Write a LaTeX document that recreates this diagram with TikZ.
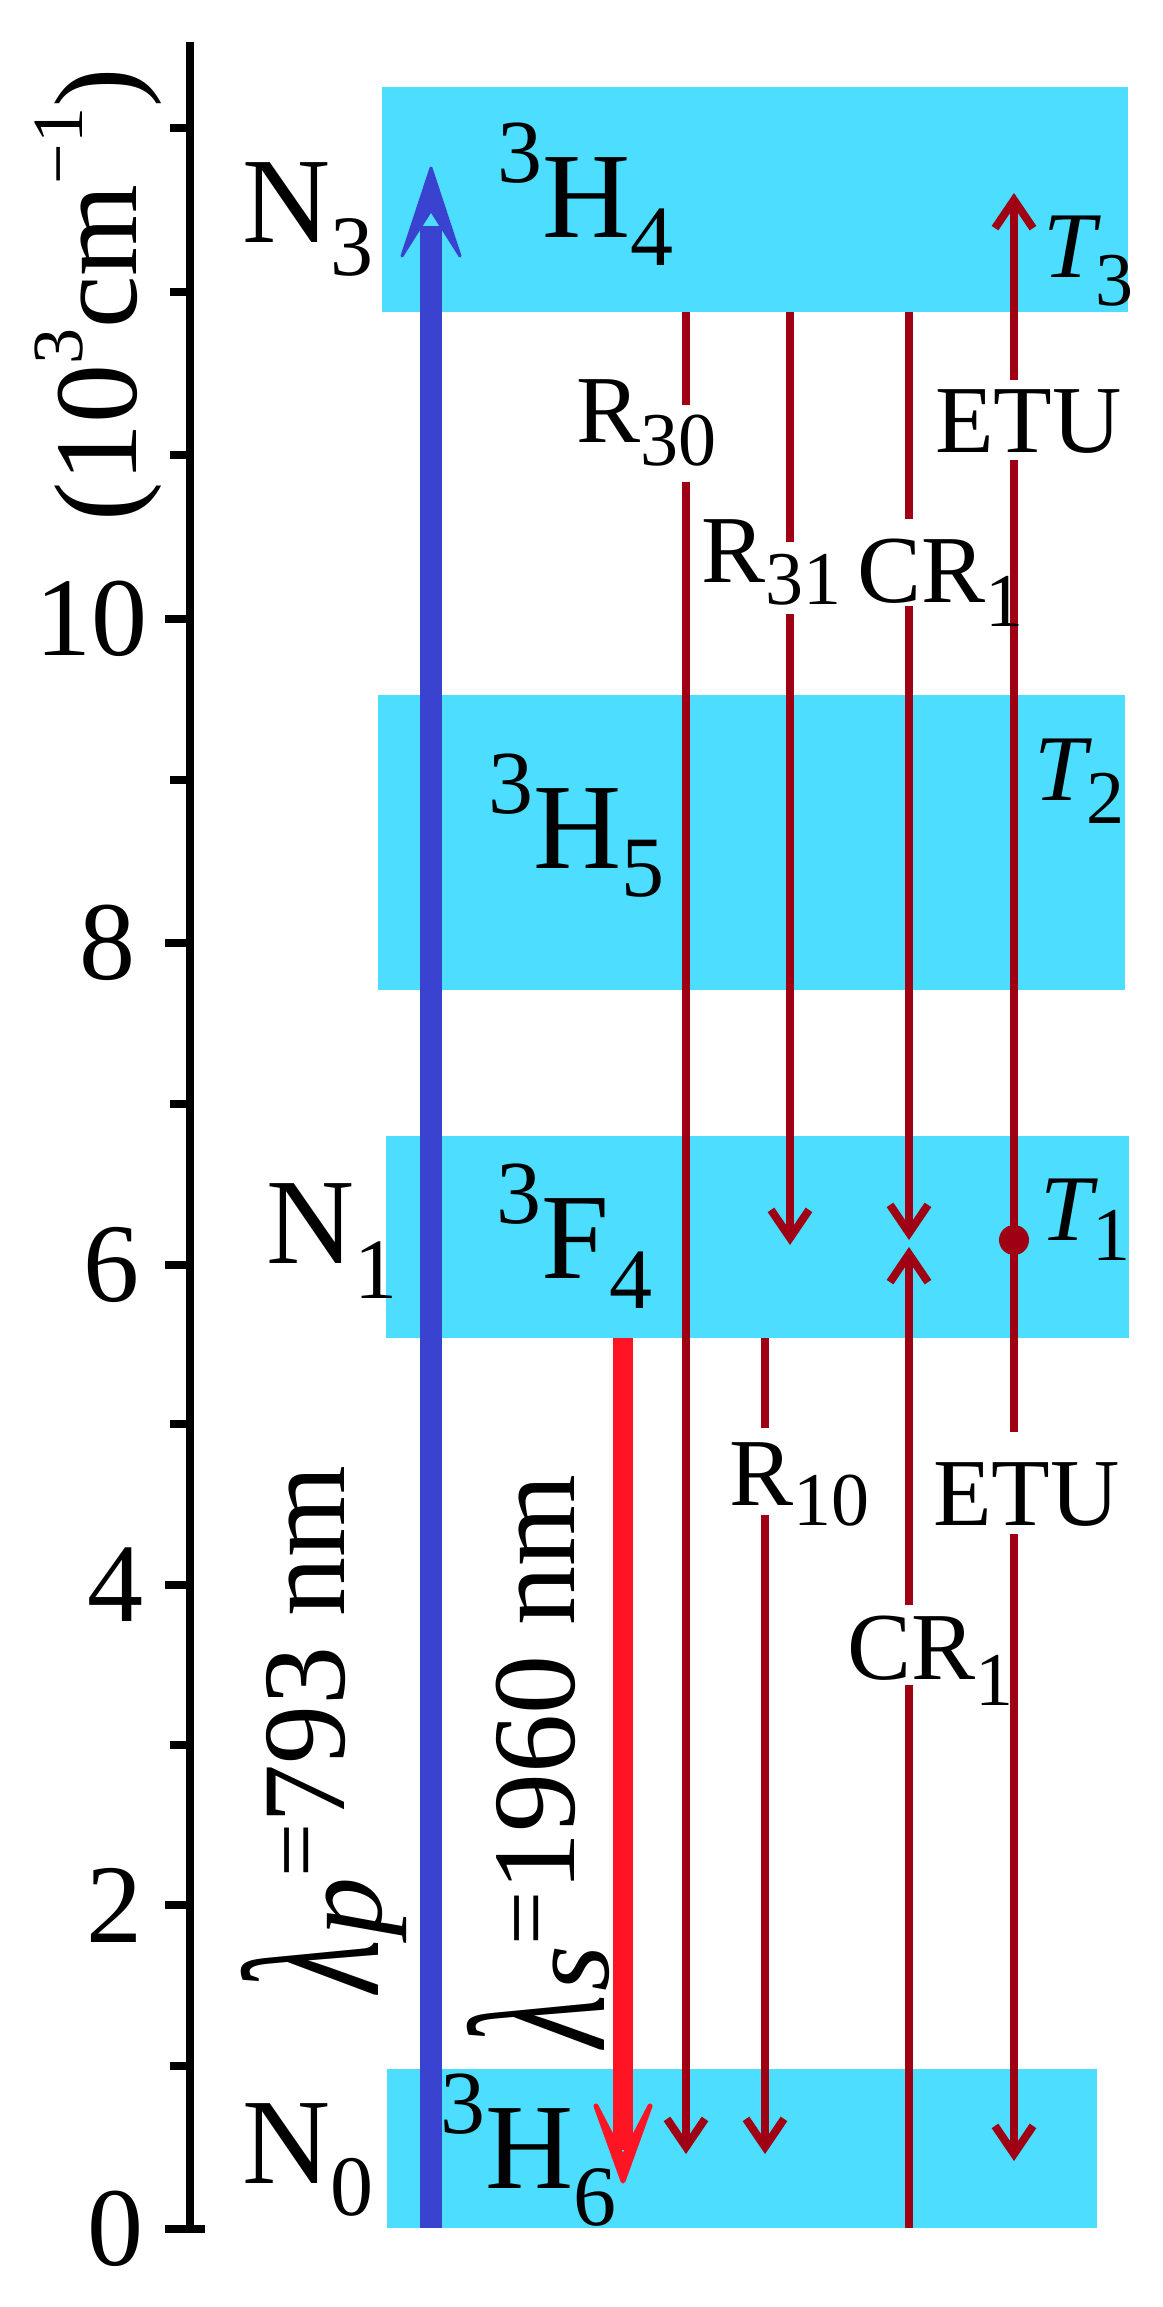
\documentclass[tikz,border=0pt]{standalone}
\usepackage{fontspec}
\usepackage{graphicx}
\setmainfont{Liberation Serif}
\usetikzlibrary{arrows.meta}
\definecolor{bandc}{RGB}{76,221,255}
\definecolor{pumpc}{RGB}{58,66,208}
\definecolor{sigc}{RGB}{255,20,35}
\definecolor{dred}{RGB}{160,0,20}
\newcommand\psub[2]{\raisebox{-#1pt}{\fontsize{76}{76}\selectfont #2}}
\newcommand\ssub[2]{\raisebox{-#1pt}{\fontsize{86}{86}\selectfont #2}}
\newcommand\ssup[1]{\raisebox{55pt}{\fontsize{90}{90}\selectfont #1}}
\newcommand\asup[1]{\raisebox{54pt}{\fontsize{72}{72}\selectfont #1}}
\newcommand\biglam{\scalebox{0.62}[1]{\fontsize{195}{195}\selectfont\itshape λ}}
\begin{document}
\begin{tikzpicture}[x=1pt,y=-1pt,
  band/.style={fill=bandc,draw=none},
  lvl/.style={font=\fontsize{122}{122}\selectfont,inner sep=0pt,anchor=base west},
  ticklab/.style={font=\fontsize{112}{112}\selectfont,inner sep=0pt,anchor=east},
  proc/.style={font=\fontsize{96}{96}\selectfont,inner sep=0pt,anchor=base west},
  tlab/.style={font=\fontsize{94}{94}\selectfont\itshape,inner sep=0pt,anchor=base west},
  trans/.style={draw=dred,line width=8pt,-{Straight Barb[length=28pt,width=38pt]}},
  seg/.style={draw=dred,line width=8pt},
  axisline/.style={line width=8pt,draw=black}]
\useasboundingbox (0,0) rectangle (1162,2307);
% bands
\fill[band] (382,87) rectangle (1128,312);
\fill[band] (378,695) rectangle (1125,990);
\fill[band] (386,1136) rectangle (1129,1338);
\fill[band] (387,2069) rectangle (1097,2228);
% axis
\draw[axisline] (190,2232) -- (190,42);
\foreach \yy in {2229,1905,1585,1265,943,619}{
  \draw[axisline] (165,\yy) -- (190,\yy);
}
\foreach \yy in {2066,1745,1424,1104,780,455,292,128}{
  \draw[axisline] (170,\yy) -- (190,\yy);
}
\draw[axisline] (165,2229) -- (205,2229);
\node[ticklab] (t0) at (144,2229) {0};
\node[ticklab] (t2) at (143,1905) {2};
\node[ticklab] (t4) at (144,1585) {4};
\node[ticklab] (t6) at (140,1265) {6};
\node[ticklab] (t8) at (136,943) {8};
\node[ticklab] (t10) at (148,619) {10};
\node[font=\fontsize{118}{118}\selectfont,inner sep=0pt,anchor=base west,rotate=90] (ylab) at (136,522) {(10\asup{3}cm\asup{−1})};
% level labels
\node[lvl] (n3) at (242,242) {N\ssub{33}{3}};
\node[lvl] (h4) at (497,237) {\ssup{3}H\ssub{28}{4}};
\node[lvl] (h5) at (488,868) {\ssup{3}H\ssub{28}{5}};
\node[lvl] (n1) at (266,1263) {N\ssub{35}{1}};
\node[lvl] (f4) at (496,1278) {\ssup{3}F\ssub{30}{4}};
\node[lvl] (n0) at (242,2183) {N\ssub{32}{0}};
\node[lvl] (h6) at (440,2188) {\ssup{3}H\ssub{37}{6}};
% coordinates
\coordinate (pb) at (431,2228);
\coordinate (pn) at (431,226);
\coordinate (pt) at (431,168);
\coordinate (sb) at (623,1338);
\coordinate (sn) at (623,2150);
\coordinate (st) at (623,2181);
\coordinate (r30a) at (686,312);
\coordinate (r30g1) at (686,405);
\coordinate (r30g2) at (686,482);
\coordinate (r30b) at (686,2154);
\coordinate (r31a) at (790,312);
\coordinate (r31g1) at (790,542);
\coordinate (r31g2) at (790,614);
\coordinate (r31b) at (790,1245);
\coordinate (cra) at (909,312);
\coordinate (crg1) at (909,519);
\coordinate (crg2) at (909,606);
\coordinate (crb) at (909,1240);
\coordinate (crc) at (909,2228);
\coordinate (crg3) at (909,1685);
\coordinate (crg4) at (909,1605);
\coordinate (crd) at (909,1247);
\coordinate (r10a) at (765,1338);
\coordinate (r10g1) at (765,1428);
\coordinate (r10g2) at (765,1515);
\coordinate (r10b) at (765,2154);
\coordinate (etug1) at (1014,460);
\coordinate (etug2) at (1014,380);
\coordinate (etuup) at (1014,193);
\coordinate (etug3) at (1014,1432);
\coordinate (etug4) at (1014,1534);
\coordinate (etudn) at (1014,2161);
% pump arrow
\draw[draw=pumpc,line width=22pt] (pb) -- (pn);
\filldraw[fill=pumpc,draw=pumpc,line width=3pt,line join=round] (pt) -- (460,256) -- (431,210) -- (402,256) -- cycle;
% signal arrow
\draw[draw=sigc,line width=20pt] (sb) -- (sn);
\filldraw[fill=sigc,draw=sigc,line width=5pt,line join=round] (st) -- (650,2106) -- (623,2158) -- (596,2106) -- cycle;
% transitions
\draw[seg] (r30a) -- (r30g1);
\draw[trans] (r30g2) -- (r30b);
\draw[seg] (r31a) -- (r31g1);
\draw[trans] (r31g2) -- (r31b);
\draw[seg] (cra) -- (crg1);
\draw[trans] (crg2) -- (crb);
\draw[seg] (crc) -- (crg3);
\draw[trans] (crg4) -- (crd);
\draw[seg] (r10a) -- (r10g1);
\draw[trans] (r10g2) -- (r10b);
\node[circle,fill=dred,inner sep=0pt,minimum size=30pt] (dot) at (1014,1240) {};
\draw[seg] (dot.center) -- (etug1);
\draw[trans] (etug2) -- (etuup);
\draw[seg] (dot.center) -- (etug3);
\draw[trans] (etug4) -- (etudn);
% process labels
\node[proc] (lr30) at (576,442) {R\psub{23}{30}};
\node[proc] (lr31) at (701,582) {R\psub{22}{31}};
\node[proc] (lcr1) at (857,602) {CR\psub{24}{1}};
\node[proc] (letu1) at (935,452) {ETU};
\node[proc] (lr10) at (729,1505) {R\psub{20}{10}};
\node[proc] (letu2) at (933,1525) {ETU};
\node[proc] (lcr2) at (847,1679) {CR\psub{26}{1}};
\node[tlab] (T3) at (1043,277) {T\psub{28}{\upshape 3}};
\node[tlab] (T2) at (1034,800) {T\psub{23}{\upshape 2}};
\node[tlab] (T1) at (1040,1240) {T\psub{20}{\upshape 1}};
% wavelength labels
\node[font=\fontsize{118}{118}\selectfont,inner sep=0pt,anchor=base west,rotate=90] (lp) at (344,1993)
  {\raisebox{-34pt}{\biglam}\kern4pt\raisebox{-37pt}{\itshape p}\raisebox{16pt}{\fontsize{96}{96}\selectfont =}793 nm};
\node[font=\fontsize{118}{118}\selectfont,inner sep=0pt,anchor=base west,rotate=90] (ls) at (574,2048)
  {\raisebox{-30pt}{\biglam}\kern4pt\raisebox{-34pt}{\itshape s}\raisebox{16pt}{\fontsize{96}{96}\selectfont =}1960 nm};
\end{tikzpicture}
\end{document}
